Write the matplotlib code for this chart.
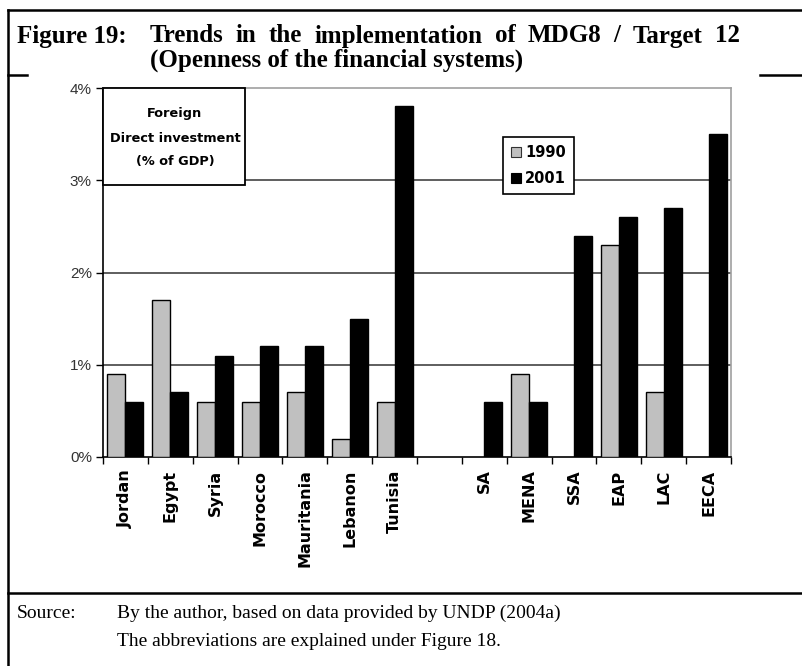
import matplotlib
matplotlib.use("Agg")
import matplotlib.pyplot as plt
from matplotlib.lines import Line2D
from matplotlib.patches import Rectangle, Patch

# ---------------- data ----------------
countries = ["Jordan", "Egypt", "Syria", "Morocco", "Mauritania", "Lebanon", "Tunisia"]
regions = ["SA", "MENA", "SSA", "EAP", "LAC", "EECA"]
fdi_1990_countries = [0.9, 1.7, 0.6, 0.6, 0.7, 0.2, 0.6]
fdi_2001_countries = [0.6, 0.7, 1.1, 1.2, 1.2, 1.5, 3.8]
fdi_1990_regions = [0.0, 0.9, 0.0, 2.3, 0.7, 0.0]
fdi_2001_regions = [0.6, 0.6, 2.4, 2.6, 2.7, 3.5]
series_names = ["1990", "2001"]
y_ticks = [0, 1, 2, 3, 4]
y_tick_labels = ["0%", "1%", "2%", "3%", "4%"]

W, H = 802, 666
fig = plt.figure(figsize=(W / 100, H / 100), dpi=100)
fig.patch.set_facecolor("white")

def fx(px):
    return px / W

def fy(py):
    return 1 - py / H

# axes placement
ax_l, ax_r, ax_t, ax_b = 103, 731, 88, 457
ax = fig.add_axes([fx(ax_l), fy(ax_b), fx(ax_r - ax_l), (ax_b - ax_t) / H])

labels = countries + [""] + regions
v1990 = fdi_1990_countries + [None] + fdi_1990_regions
v2001 = fdi_2001_countries + [None] + fdi_2001_regions
n = len(labels)
bw = 0.4
gray = "#c0c0c0"
for i, (a, b) in enumerate(zip(v1990, v2001)):
    c = i + 0.5
    if a:
        ax.bar(c - bw / 2, a, width=bw, color=gray, edgecolor="black", linewidth=1.0, zorder=3)
    if b:
        ax.bar(c + bw / 2, b, width=bw, color="black", edgecolor="black", linewidth=1.0, zorder=3)

ax.set_xlim(0, n)
ax.set_ylim(0, 4)

# grid lines
for yv in [1, 2, 3]:
    ax.axhline(yv, color="#333333", linewidth=1.1, zorder=1)

# spines
for s in ["top", "right"]:
    ax.spines[s].set_color("#a0a0a0")
    ax.spines[s].set_linewidth(1.2)
for s in ["left", "bottom"]:
    ax.spines[s].set_color("black")
    ax.spines[s].set_linewidth(1.2)

ax.set_yticks(y_ticks)
ax.set_yticklabels(y_tick_labels, fontsize=11, color="#333333", family="Liberation Sans")
ax.tick_params(axis="y", direction="out", length=5, width=1.0, pad=3)

ax.set_xticks(range(n + 1))
ax.set_xticklabels([""] * (n + 1))
ax.tick_params(axis="x", which="major", direction="out", length=5, width=1.0)
ax.set_xticks([i + 0.5 for i in range(n)], minor=True)
ax.set_xticklabels(labels, minor=True, rotation=90, fontsize=11.5, fontweight="bold",
                   family="DejaVu Sans", va="top", ha="center")
ax.tick_params(axis="x", which="minor", length=0, pad=9)

# text box "Foreign Direct investment (% of GDP)"
box_r, box_b = 245, 185
bx = Rectangle((0, (ax_b - box_b) / (ax_b - ax_t)), (box_r - ax_l) / (ax_r - ax_l),
               (box_b - ax_t) / (ax_b - ax_t), transform=ax.transAxes,
               facecolor="white", edgecolor="black", linewidth=1.3, zorder=5, clip_on=False)
ax.add_patch(bx)
cx = fx((ax_l + box_r) / 2 + 1)
for txt, py in [("Foreign", 113), ("Direct investment", 138), ("(% of GDP)", 162)]:
    fig.text(cx, fy(py), txt, ha="center", va="center", fontsize=9.3, fontweight="bold",
             family="DejaVu Sans", zorder=6)

# legend
handles = [Patch(facecolor=gray, edgecolor="#333333", linewidth=0.8),
           Patch(facecolor="black", edgecolor="black", linewidth=0.8)]
leg = fig.legend(handles, series_names, loc="upper left",
                 bbox_to_anchor=(fx(503), fy(137)), borderaxespad=0, frameon=True,
                 fancybox=False, edgecolor="black", framealpha=1, handlelength=0.7,
                 handleheight=0.7, handletextpad=0.25, borderpad=0.55, labelspacing=0.75,
                 prop={"family": "DejaVu Sans", "weight": "bold", "size": 10.5})
leg.get_frame().set_linewidth(1.2)

# frame lines
lw = 1.8
fig.add_artist(Line2D([fx(8), fx(8)], [fy(10), fy(666)], color="black", linewidth=lw))
fig.add_artist(Line2D([fx(8), fx(802)], [fy(10), fy(10)], color="black", linewidth=lw))
fig.add_artist(Line2D([fx(8), fx(27)], [fy(75), fy(75)], color="black", linewidth=lw))
fig.add_artist(Line2D([fx(760), fx(802)], [fy(75), fy(75)], color="black", linewidth=lw))
fig.add_artist(Line2D([fx(8), fx(802)], [fy(593), fy(593)], color="black", linewidth=lw))

# title
tprops = dict(fontsize=18, fontweight="bold", family="Liberation Serif", va="center", ha="left")
fig.text(fx(17), fy(36), "Figure 19:", **tprops)
fig.text(fx(150), fy(60), "(Openness of the financial systems)", **tprops)

# first title line, slightly spread between x=150 and x=740 px
title_words = "Trends in the implementation of MDG8 / Target 12".split()
renderer = fig.canvas.get_renderer()
word_artists = [fig.text(0, fy(36), w, **tprops) for w in title_words]
widths = [t.get_window_extent(renderer=renderer).width for t in word_artists]
x0, x1 = 150, 740
gap = (x1 - x0 - sum(widths)) / (len(title_words) - 1)
xpos = x0
for t, wdt in zip(word_artists, widths):
    t.set_x(fx(xpos))
    xpos += wdt + gap

# source
sprops = dict(fontsize=14, family="Liberation Serif", va="center", ha="left")
fig.text(fx(17), fy(613), "Source:", **sprops)
fig.text(fx(117), fy(613), "By the author, based on data provided by UNDP (2004a)", **sprops)
fig.text(fx(117), fy(642), "The abbreviations are explained under Figure 18.", **sprops)

fig.savefig("out.png", dpi=100, facecolor="white")
